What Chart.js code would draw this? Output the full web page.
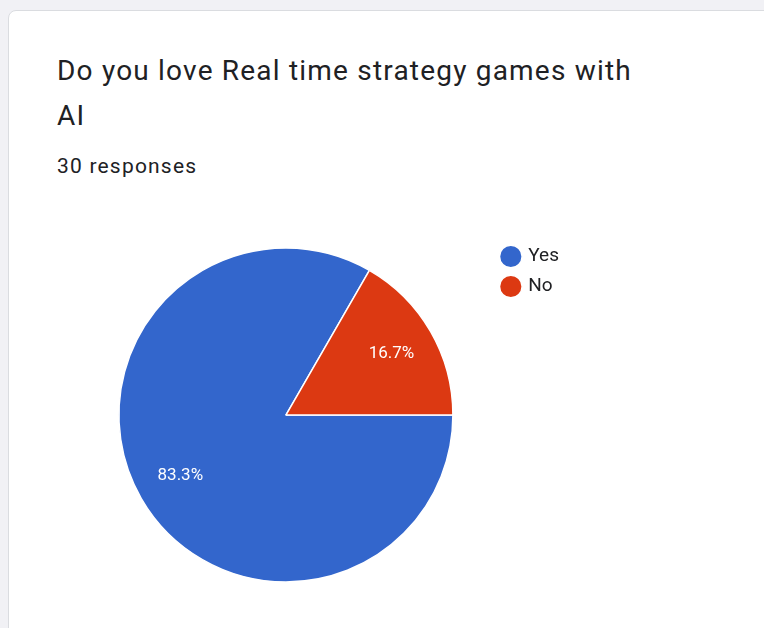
<!DOCTYPE html>
<html lang="en">
<head>
    <meta charset="UTF-8">
    <title>Do you love Real time strategy games with AI</title>
    <script src="https://cdn.jsdelivr.net/npm/chart.js"></script>
    <style>
        html, body { margin: 0; padding: 0; background: #f1f1f5; width: 764px; height: 628px; overflow: hidden; }
        .card {
            position: absolute; left: 8px; top: 10px; width: 800px; height: 680px;
            background: #fff; border: 1px solid #dadce0; border-radius: 8px;
        }
        .title {
            position: absolute; left: 57px; top: 48px; width: 600px;
            font-family: Roboto, "Noto Sans", sans-serif; font-size: 28px; line-height: 45px;
            letter-spacing: 1.2px; color: #202124; margin: 0; font-weight: 400;
        }
        .sub {
            position: absolute; left: 57px; top: 154px;
            font-family: Roboto, "Noto Sans", sans-serif; font-size: 21px; letter-spacing: 1.2px; color: #202124;
        }
        .chart-box { position: absolute; left: 72px; top: 228px; width: 497px; height: 374px; }
    </style>
</head>
<body>
    <div class="card"></div>
    <h1 class="title">Do you love Real time strategy games with AI</h1>
    <div class="sub">30 responses</div>
    <div class="chart-box"><canvas id="myChart"></canvas></div>
    <script>
        const labels = ['Yes', 'No'];
        const counts = [25, 5];
        const colors = ['#3366cc', '#dc3912'];

        // percentage labels inside each slice, like Google Forms
        const sliceLabels = {
            id: 'sliceLabels',
            afterDatasetsDraw(chart) {
                const ctx = chart.ctx;
                const meta = chart.getDatasetMeta(0);
                const total = counts.reduce((a, b) => a + b, 0);
                ctx.save();
                ctx.font = '17px Roboto, "Noto Sans", sans-serif';
                ctx.fillStyle = '#ffffff';
                ctx.textAlign = 'center';
                ctx.textBaseline = 'middle';
                meta.data.forEach((arc, i) => {
                    const mid = (arc.startAngle + arc.endAngle) / 2;
                    const r = arc.outerRadius * 0.73;
                    const x = arc.x + Math.cos(mid) * r;
                    const y = arc.y + Math.sin(mid) * r;
                    ctx.fillText((counts[i] / total * 100).toFixed(1) + '%', x, y);
                });
                ctx.restore();
            }
        };

        const ctx = document.getElementById('myChart').getContext('2d');
        const myChart = new Chart(ctx, {
            type: 'pie',
            data: {
                labels: labels,
                datasets: [{
                    data: counts,
                    backgroundColor: colors,
                    borderColor: '#ffffff',
                    borderWidth: 1.5
                }]
            },
            options: {
                responsive: true,
                maintainAspectRatio: false,
                animation: false,
                rotation: 90,
                radius: 167,
                layout: { padding: { left: 8, top: 8, bottom: 8, right: 0 } },
                plugins: {
                    tooltip: { enabled: false },
                    legend: {
                        position: 'right',
                        align: 'start',
                        labels: {
                            usePointStyle: true,
                            pointStyle: 'circle',
                            boxWidth: 16,
                            boxHeight: 16,
                            padding: 11,
                            color: '#202124',
                            font: { family: 'Roboto, "Noto Sans", sans-serif', size: 19 }
                        }
                    }
                }
            },
            plugins: [sliceLabels]
        });
    </script>
</body>
</html>
